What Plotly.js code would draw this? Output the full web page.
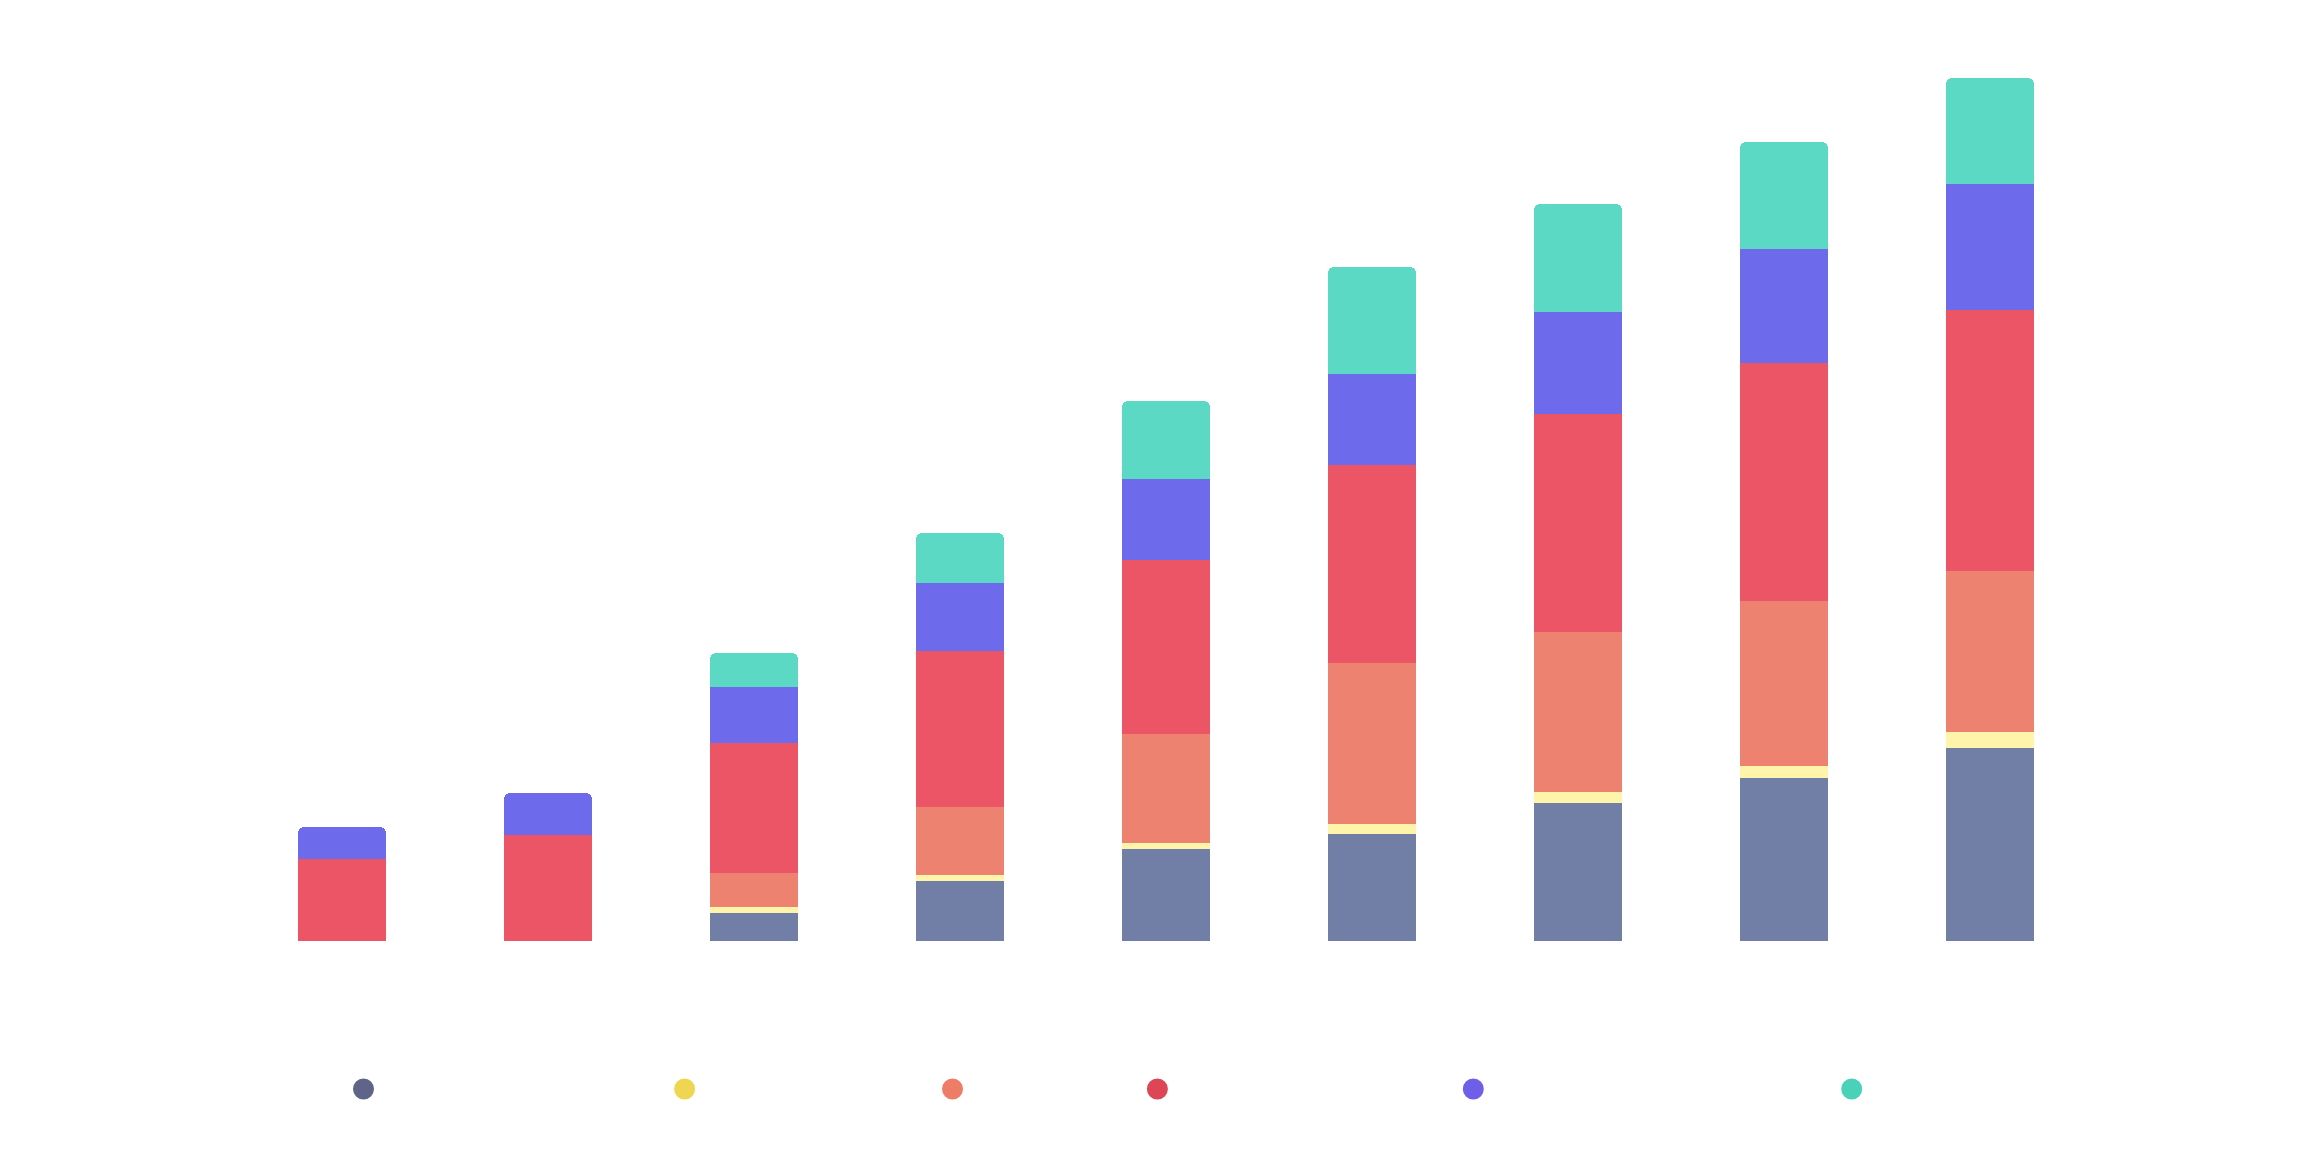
<!DOCTYPE html>
<html>
<head>
<meta charset="utf-8">
<script src="https://cdn.plot.ly/plotly-3.0.1.min.js"></script>
<style>html,body{margin:0;padding:0;background:#fff;}#chart{width:2320px;height:1158px;}</style>
</head>
<body>
<div id="chart"></div>
<script>
var categories = ["1", "2", "3", "4", "5", "6", "7", "8", "9"];
var seriesA = [0, 0, 28, 60, 92, 107, 138, 163, 193];
var seriesB = [0, 0, 6, 6, 6, 10, 11, 12, 16];
var seriesC = [0, 0, 34, 68, 109, 161, 160, 165, 161];
var seriesD = [82, 106, 130, 156, 174, 198, 218, 238, 261];
var seriesE = [32, 42, 56, 68, 81, 91, 102, 114, 126];
var seriesF = [0, 0, 34, 50, 78, 107, 108, 107, 106];

var barColors = ["#717ea6", "#fef5ab", "#ec826f", "#eb5566", "#6d6aeb", "#5bd9c4"];
var dotColors = ["#5f6489", "#efd651", "#ee7d67", "#dc4655", "#6e5ee8", "#49d2b8"];
var allSeries = [seriesA, seriesB, seriesC, seriesD, seriesE, seriesF];
var legendX = [0.0685, 0.2417, 0.3862, 0.4967, 0.6671, 0.8712];

var traces = [];
allSeries.forEach(function (s, i) {
  traces.push({
    type: "bar", x: categories, y: s,
    marker: {color: barColors[i], line: {width: 0}},
    showlegend: false, hoverinfo: "skip"
  });
});
allSeries.forEach(function (s, i) {
  traces.push({
    type: "scatter", mode: "markers", x: [null], y: [null], name: "",
    marker: {color: dotColors[i], size: 16, line: {color: dotColors[i], width: 5}},
    legend: i === 0 ? "legend" : "legend" + (i + 1),
    showlegend: true, hoverinfo: "skip"
  });
});

var layout = {
  width: 2320, height: 1158,
  margin: {l: 239, r: 227, t: 60, b: 217},
  paper_bgcolor: "#ffffff", plot_bgcolor: "#ffffff",
  barmode: "stack", bargap: 0.573, barcornerradius: 6,
  xaxis: {type: "category", range: [-0.5, 8.5], showgrid: false, zeroline: false, showticklabels: false, ticks: "", showline: false, fixedrange: true},
  yaxis: {range: [0, 881], showgrid: false, zeroline: false, showticklabels: false, ticks: "", showline: false, fixedrange: true},
  font: {family: "Roboto", size: 12, color: "#ffffff"}
};
legendX.forEach(function (lx, i) {
  var key = i === 0 ? "legend" : "legend" + (i + 1);
  layout[key] = {x: lx, y: -0.168, xanchor: "center", yanchor: "middle", orientation: "h",
    bgcolor: "rgba(0,0,0,0)", borderwidth: 0, font: {size: 12, color: "#ffffff"}};
});

Plotly.newPlot("chart", traces, layout, {displayModeBar: false, staticPlot: true});
</script>
</body>
</html>
